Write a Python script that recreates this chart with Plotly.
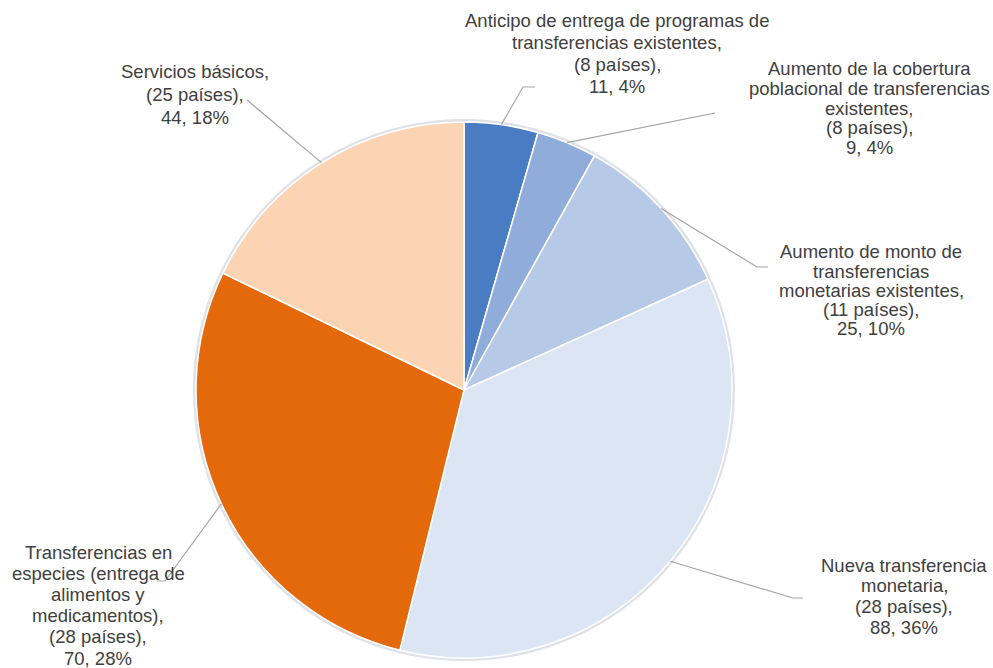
import math
import plotly.graph_objects as go

# Medidas de protección social por tipo (número de medidas y países)
categorias = [
    "Anticipo de entrega de programas de transferencias existentes",
    "Aumento de la cobertura poblacional de transferencias existentes",
    "Aumento de monto de transferencias monetarias existentes",
    "Nueva transferencia monetaria",
    "Transferencias en especies (entrega de alimentos y medicamentos)",
    "Servicios básicos",
]
valores = [11, 9, 25, 88, 70, 44]
paises = [8, 8, 11, 28, 28, 25]

# Líneas de cada etiqueta (nombre partido en renglones)
lineas_nombre = [
    ["Anticipo de entrega de programas de", "transferencias existentes,"],
    ["Aumento de la cobertura", "poblacional de transferencias", "existentes,"],
    ["Aumento de monto de", "transferencias", "monetarias existentes,"],
    ["Nueva transferencia", "monetaria,"],
    ["Transferencias en", "especies (entrega de", "alimentos y", "medicamentos),"],
    ["Servicios básicos,"],
]

colores = ["#4A7CC3", "#8FACDA", "#B6CAE7", "#DCE5F3", "#E4690B", "#FBD4B4"]

W, H = 993, 668
CX, CY, R = 464, 390, 268  # centro y radio del pastel, en píxeles

# Posición de cada etiqueta: centro x, y del primer renglón, interlineado (px)
pos_etiquetas = [
    (617, 20, 22.3),
    (869, 68, 20.0),
    (871, 252, 19.2),
    (904, 565, 20.7),
    (98, 552, 21.2),
    (195, 72, 22.5),
]
# Tramos de las líneas guía, desde el borde del pastel hasta la etiqueta (px)
tramos_guia = [
    [(523, 87), (535, 87)],
    [(715, 113)],
    [(757, 267), (768, 267)],
    [(793, 598), (803, 598)],
    [(165, 581), (157, 581)],
    [(247, 100)],
]


def a_papel(x, y):
    return x / W, 1 - y / H


total = sum(valores)

fig = go.Figure()
fig.add_trace(go.Pie(
    labels=categorias,
    values=valores,
    sort=False,
    direction="clockwise",
    rotation=0,
    textinfo="none",
    hoverinfo="label+value+percent",
    marker=dict(colors=colores, line=dict(color="#FFFFFF", width=1.5)),
    domain=dict(x=[(CX - R) / W, (CX + R) / W],
                y=[(H - CY - R) / H, (H - CY + R) / H]),
    showlegend=False,
))

anotaciones = []
# sombra tenue alrededor del pastel
sx0, sy0 = a_papel(CX - R - 1.5, CY + R + 1.5)
sx1, sy1 = a_papel(CX + R + 1.5, CY - R - 1.5)
formas = [dict(type="circle", xref="paper", yref="paper", layer="below",
               x0=sx0, y0=sy0, x1=sx1, y1=sy1,
               line=dict(color="rgba(110,120,140,0.22)", width=3))]
acumulado = 0
for i, v in enumerate(valores):
    # ángulo medio del sector, en sentido horario desde las 12
    ang = 2 * math.pi * (acumulado + v / 2) / total
    acumulado += v
    x0 = CX + R * math.sin(ang)
    y0 = CY - R * math.cos(ang)
    puntos = [(x0, y0)] + tramos_guia[i]
    ruta = ""
    for k, (px, py) in enumerate(puntos):
        qx, qy = a_papel(px, py)
        ruta += ("M" if k == 0 else " L") + f" {qx:.5f} {qy:.5f}"
    formas.append(dict(type="path", path=ruta, xref="paper", yref="paper",
                       line=dict(color="#A5A5A5", width=1.2)))

    pct = round(100 * v / total)
    renglones = lineas_nombre[i] + [f"({paises[i]} países),", f"{v}, {pct}%"]
    lx, ly, paso = pos_etiquetas[i]
    for j, texto in enumerate(renglones):
        qx, qy = a_papel(lx, ly + j * paso)
        anotaciones.append(dict(
            x=qx, y=qy, xref="paper", yref="paper", text=texto,
            showarrow=False, xanchor="center", yanchor="middle",
            font=dict(family="Liberation Sans, Arial, sans-serif",
                      size=18.5, color="#404040"),
        ))

fig.update_layout(
    width=W, height=H,
    margin=dict(l=0, r=0, t=0, b=0),
    paper_bgcolor="#FFFFFF",
    plot_bgcolor="#FFFFFF",
    annotations=anotaciones,
    shapes=formas,
)

fig.write_html("out.html")
